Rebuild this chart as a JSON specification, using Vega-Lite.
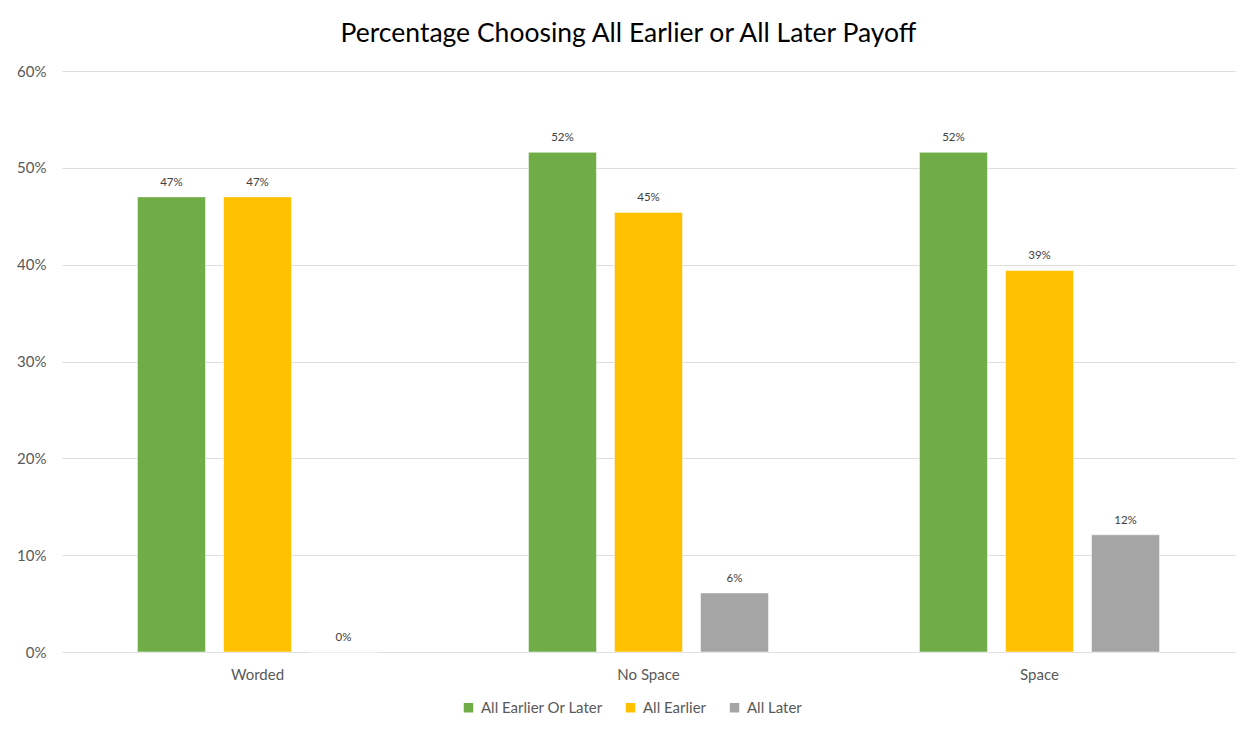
{
  "$schema": "https://vega.github.io/schema/vega-lite/v6.json",
  "autosize": {"type": "none"},
  "width": 1173,
  "height": 581,
  "padding": {"left": 62, "top": 71, "right": 15, "bottom": 78},
  "background": "#ffffff",
  "title": {
    "text": "Percentage Choosing All Earlier or All Later Payoff",
    "anchor": "middle",
    "frame": "group",
    "dx": -20,
    "offset": 17,
    "font": "Lato",
    "fontSize": 26.5,
    "fontWeight": "normal",
    "color": "#000000"
  },
  "data": {
    "values": [
      {"condition": "Worded", "series": "All Earlier Or Later", "share": 0.47},
      {"condition": "Worded", "series": "All Earlier", "share": 0.47},
      {"condition": "Worded", "series": "All Later", "share": 0.0},
      {"condition": "No Space", "series": "All Earlier Or Later", "share": 0.516},
      {"condition": "No Space", "series": "All Earlier", "share": 0.454},
      {"condition": "No Space", "series": "All Later", "share": 0.061},
      {"condition": "Space", "series": "All Earlier Or Later", "share": 0.516},
      {"condition": "Space", "series": "All Earlier", "share": 0.394},
      {"condition": "Space", "series": "All Later", "share": 0.121}
    ]
  },
  "encoding": {
    "x": {
      "field": "condition",
      "type": "nominal",
      "sort": ["Worded", "No Space", "Space"],
      "scale": {"paddingInner": 0.386, "paddingOuter": 0.193},
      "axis": {
        "title": null,
        "labelAngle": 0,
        "ticks": false,
        "domain": false,
        "labelFont": "Lato",
        "labelFontSize": 15,
        "labelColor": "#595959",
        "labelPadding": 15
      }
    },
    "xOffset": {
      "field": "series",
      "type": "nominal",
      "sort": ["All Earlier Or Later", "All Earlier", "All Later"],
      "scale": {"paddingInner": 0.2093, "paddingOuter": 0}
    },
    "y": {
      "field": "share",
      "type": "quantitative",
      "scale": {"domain": [0, 0.6], "nice": false},
      "axis": {
        "title": null,
        "format": ".0%",
        "values": [0, 0.1, 0.2, 0.3, 0.4, 0.5, 0.6],
        "labelOverlap": false,
        "ticks": false,
        "domain": false,
        "grid": true,
        "gridColor": "#dedede",
        "gridWidth": 1,
        "labelFont": "Lato",
        "labelFontSize": 15,
        "labelColor": "#595959",
        "labelPadding": 16
      }
    }
  },
  "layer": [
    {
      "mark": {"type": "bar", "stroke": "#ffffff", "strokeWidth": 0.5},
      "encoding": {
        "color": {
          "field": "series",
          "type": "nominal",
          "sort": ["All Earlier Or Later", "All Earlier", "All Later"],
          "scale": {
            "domain": ["All Earlier Or Later", "All Earlier", "All Later"],
            "range": ["#70ad47", "#ffc000", "#a5a5a5"]
          },
          "legend": {
            "title": null,
            "orient": "none",
            "direction": "horizontal",
            "legendX": 399,
            "legendY": 629,
            "symbolType": "square",
            "symbolSize": 90,
            "symbolStrokeWidth": 0,
            "labelFont": "Lato",
            "labelFontSize": 15,
            "labelColor": "#595959",
            "labelOffset": 5,
            "columnPadding": 20
          }
        }
      }
    },
    {
      "mark": {
        "type": "text",
        "baseline": "bottom",
        "dy": -9,
        "font": "Lato",
        "fontSize": 11.5,
        "color": "#404040"
      },
      "encoding": {
        "text": {"field": "share", "type": "quantitative", "format": ".0%"}
      }
    }
  ],
  "config": {
    "view": {"stroke": null}
  }
}
